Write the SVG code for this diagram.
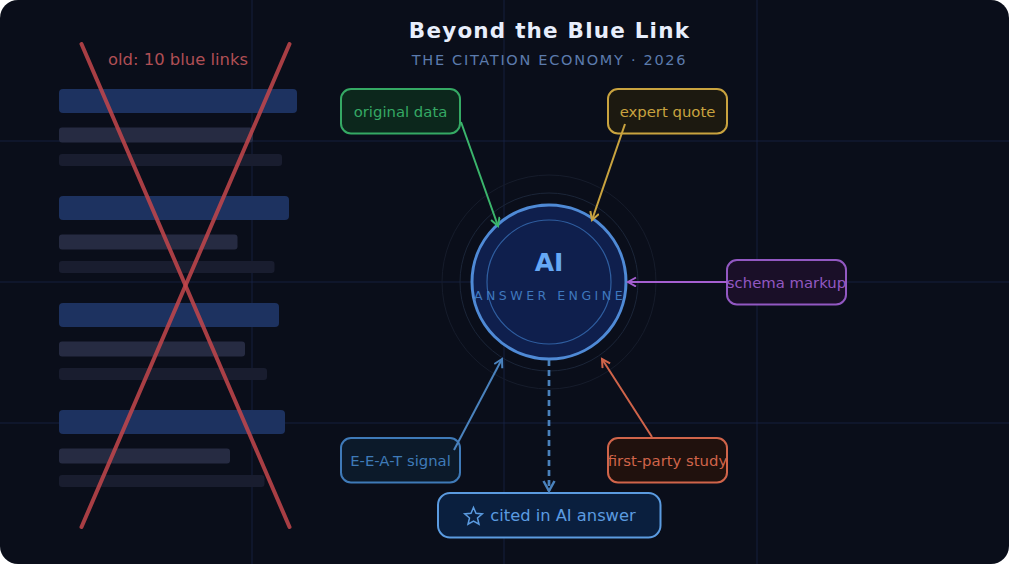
<svg xmlns="http://www.w3.org/2000/svg" width="1024" height="579" viewBox="0 0 1024 579">
<style>
text{font-family:"DejaVu Sans","Liberation Sans",sans-serif;text-anchor:middle}
.grid line{stroke:#1a2950;stroke-width:1;opacity:.65}
.blue{fill:#1d3260}.l2{fill:#262b42}.l3{fill:#191d2f}
.box{stroke-width:2}
.lbl{font-size:14.850px}
.cross{stroke:#c4474c;stroke-width:4;stroke-linecap:round;opacity:.85}
.c{fill:none;stroke-width:2}
</style>
<defs>
<marker id="ag" markerWidth="12" markerHeight="12" refX="9" refY="5" orient="auto" markerUnits="userSpaceOnUse"><path d="M1 0.5L9 5L1 9.500" fill="none" stroke="#3bb56c" stroke-width="2"/></marker>
<marker id="ay" markerWidth="12" markerHeight="12" refX="9" refY="5" orient="auto" markerUnits="userSpaceOnUse"><path d="M1 0.5L9 5L1 9.500" fill="none" stroke="#c9a33f" stroke-width="2"/></marker>
<marker id="ap" markerWidth="12" markerHeight="12" refX="9" refY="5" orient="auto" markerUnits="userSpaceOnUse"><path d="M1 0.5L9 5L1 9.500" fill="none" stroke="#a55fd0" stroke-width="2"/></marker>
<marker id="ab" markerWidth="12" markerHeight="12" refX="9" refY="5" orient="auto" markerUnits="userSpaceOnUse"><path d="M1 0.5L9 5L1 9.500" fill="none" stroke="#4a82bd" stroke-width="2"/></marker>
<marker id="ar" markerWidth="12" markerHeight="12" refX="9" refY="5" orient="auto" markerUnits="userSpaceOnUse"><path d="M1 0.5L9 5L1 9.500" fill="none" stroke="#d0644a" stroke-width="2"/></marker>
<marker id="ad" markerWidth="14" markerHeight="14" refX="11" refY="6.500" orient="auto" markerUnits="userSpaceOnUse"><path d="M1 1L11 6.500L1 12" fill="none" stroke="#4a82bd" stroke-width="2.500"/></marker>
</defs>
<rect width="1024" height="579" fill="#ffffff"/>
<rect id="bg" x="0" y="0" width="1009" height="564" rx="18" fill="#0a0e1a"/>
<g class="grid">
<line x1="0" y1="141" x2="1009" y2="141"/><line x1="0" y1="282" x2="1009" y2="282"/><line x1="0" y1="423" x2="1009" y2="423"/>
<line x1="252" y1="0" x2="252" y2="564"/><line x1="504" y1="0" x2="504" y2="564"/><line x1="757" y1="0" x2="757" y2="564"/>
</g>
<g id="title"><text x="549.5" y="38" font-size="21.5" font-weight="700" fill="#e8eefc" letter-spacing="1.2">Beyond the Blue Link</text>
<text x="549.5" y="65" font-size="14.500" fill="#5c7bad" letter-spacing="1.700">THE CITATION ECONOMY · 2026</text></g>
<g id="old-results">
<text x="178" y="65" font-size="16.400" fill="#b04f55">old: 10 blue links</text>
<rect class="blue" x="59" y="89" width="238" height="24" rx="4"/><rect class="l2" x="59" y="127.500" width="194" height="15" rx="3"/><rect class="l3" x="59" y="154" width="223" height="12" rx="3"/>
<rect class="blue" x="59" y="196" width="230" height="24" rx="4"/><rect class="l2" x="59" y="234.500" width="178.500" height="15" rx="3"/><rect class="l3" x="59" y="261" width="215.500" height="12" rx="3"/>
<rect class="blue" x="59" y="303" width="220" height="24" rx="4"/><rect class="l2" x="59" y="341.500" width="186" height="15" rx="3"/><rect class="l3" x="59" y="368" width="208" height="12" rx="3"/>
<rect class="blue" x="59" y="410" width="226" height="24" rx="4"/><rect class="l2" x="59" y="448.500" width="171" height="15" rx="3"/><rect class="l3" x="59" y="475" width="205.500" height="12" rx="3"/>
<line class="cross" x1="81.500" y1="44" x2="289.500" y2="527"/><line class="cross" x1="289.500" y1="44" x2="81.500" y2="527"/>
</g>
<g id="ai-engine">
<circle cx="549" cy="282" r="107" fill="none" stroke="#161c2b" stroke-width="1"/>
<circle cx="549" cy="282" r="89" fill="none" stroke="#1b2538" stroke-width="1"/>
<circle cx="549" cy="282" r="77" fill="#0f1f4d" stroke="#4f8ad6" stroke-width="3"/>
<circle cx="549" cy="282" r="62" fill="none" stroke="#2f5ea0" stroke-width="1.200"/>
<text x="549" y="271" font-size="25" font-weight="700" fill="#66a8f5">AI</text>
<text x="550" y="300" font-size="12.500" fill="#3f78bd" letter-spacing="3.500">ANSWER ENGINE</text>
</g>
<g id="original-data"><rect class="box" x="341" y="89" width="119" height="44.500" rx="10" fill="#0c271c" stroke="#35a964"/><text class="lbl" x="400.500" y="117" fill="#35a964">original data</text></g>
<g id="expert-quote"><rect class="box" x="608" y="89" width="119" height="44.500" rx="10" fill="#1c1910" stroke="#c9a33f"/><text class="lbl" x="667.500" y="117" fill="#c9a33f">expert quote</text></g>
<g id="schema-markup"><rect class="box" x="727" y="260" width="119" height="44.500" rx="10" fill="#1a0f28" stroke="#9258c2"/><text class="lbl" x="786.500" y="288" fill="#9258c2">schema markup</text></g>
<g id="eeat-signal"><rect class="box" x="341" y="438" width="119" height="44.500" rx="10" fill="#0c1a2a" stroke="#3f7ab8"/><text class="lbl" x="400.500" y="466" fill="#3f7ab8">E-E-A-T signal</text></g>
<g id="first-party-study"><rect class="box" x="608" y="438" width="119" height="44.500" rx="10" fill="#20110d" stroke="#d0644a"/><text class="lbl" x="667.500" y="466" fill="#d0644a">first-party study</text></g>
<g id="cited"><rect class="box" x="438" y="493" width="222.500" height="44.500" rx="12" fill="#0a1f3e" stroke="#5b9be0"/>
<text x="563" y="521" font-size="16.300" fill="#5b9be0">cited in AI answer</text>
<path d="M473.500 507.500L476 513.300L482.300 513.900L477.500 518L479 524.200L473.500 521L468 524.200L469.500 518L464.700 513.900L471 513.300Z" fill="none" stroke="#5b9be0" stroke-width="1.500"/></g>
<g id="connectors">
<line class="c" x1="461" y1="122" x2="498" y2="226" stroke="#3bb56c" marker-end="url(#ag)"/>
<line class="c" x1="625" y1="124" x2="592" y2="220" stroke="#c9a33f" marker-end="url(#ay)"/>
<line class="c" x1="727" y1="282" x2="628" y2="282" stroke="#a55fd0" marker-end="url(#ap)"/>
<line class="c" x1="454" y1="450" x2="502" y2="359" stroke="#4a82bd" marker-end="url(#ab)"/>
<line class="c" x1="652" y1="437" x2="602" y2="359" stroke="#d0644a" marker-end="url(#ar)"/>
<line class="c" x1="549" y1="360" x2="549" y2="491" stroke="#4a82bd" style="stroke-width:2.700" stroke-dasharray="6 4" marker-end="url(#ad)"/>
</g>
</svg>
